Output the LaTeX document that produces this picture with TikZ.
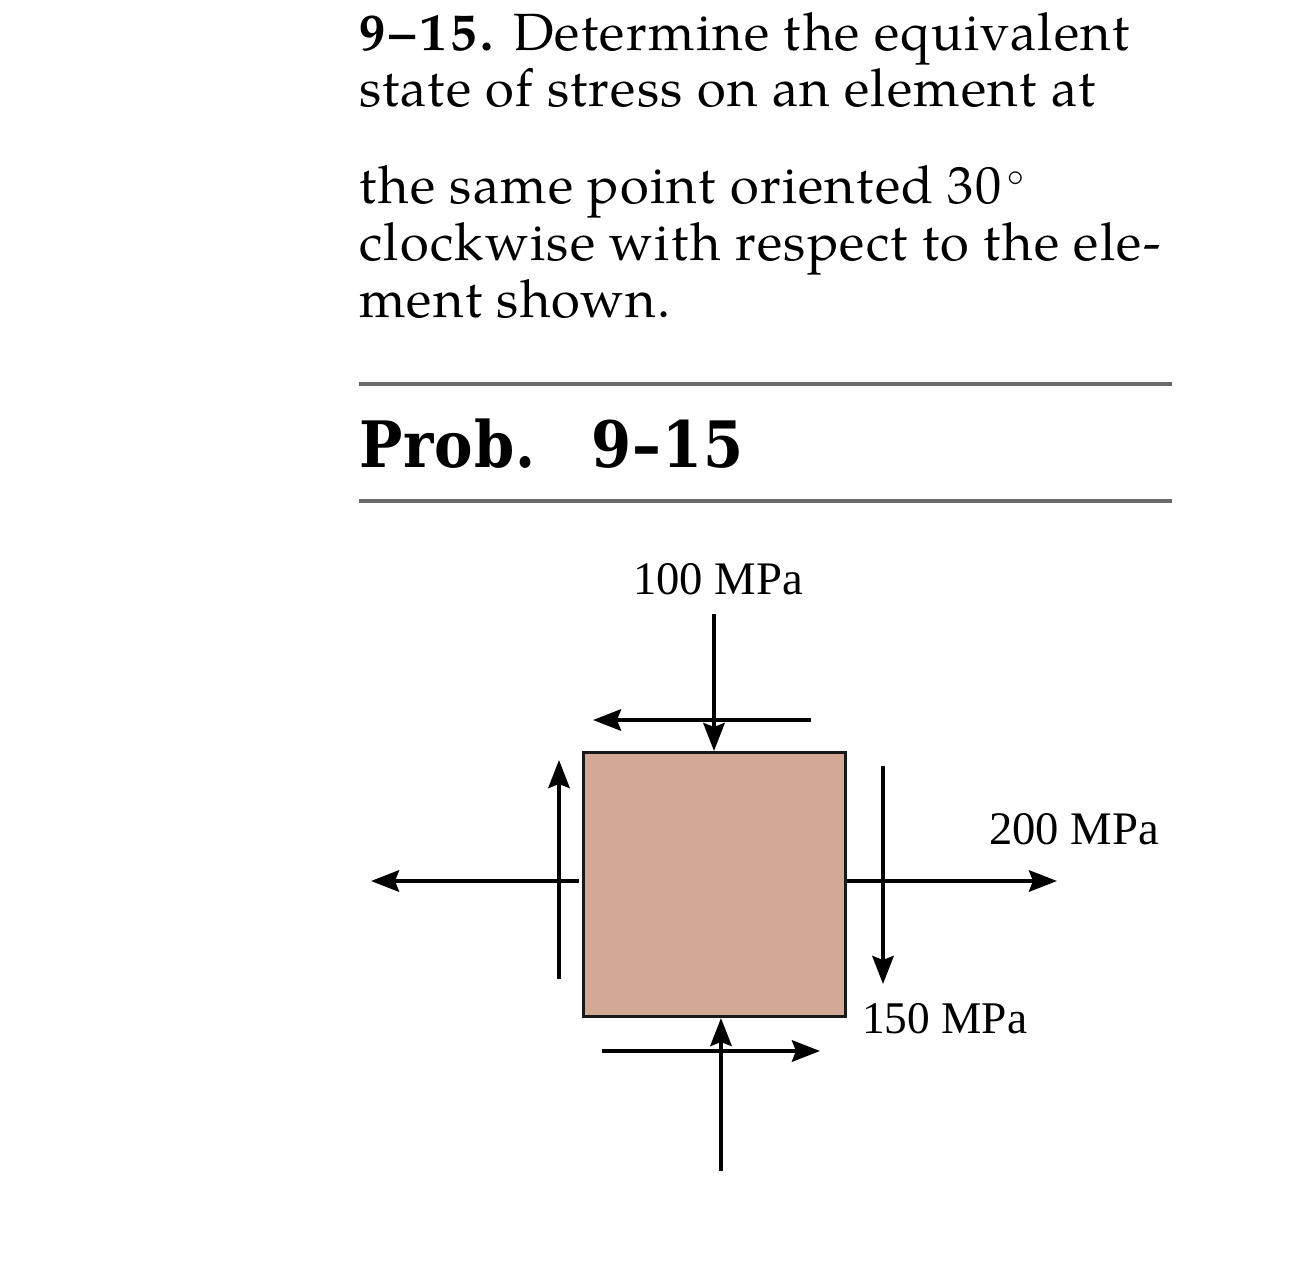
\documentclass[tikz,border=0pt]{standalone}
\usepackage{fontspec}
\setmainfont{Liberation Serif}
\newfontfamily\bodyfont[LetterSpace=2.5]{TeX Gyre Pagella}
\newfontfamily\bodybold[LetterSpace=8]{TeX Gyre Pagella}
\newfontfamily\headfont[LetterSpace=1.5]{DejaVu Serif Condensed}
\usetikzlibrary{arrows.meta}
\definecolor{elemfill}{HTML}{D3A995}
\definecolor{rulegray}{HTML}{6A6A6A}
\tikzset{
  px/.style={x=0.75pt,y=-0.75pt},
  bodytext/.style={anchor=base west,inner sep=0pt,font=\bodyfont\fontsize{39.3}{39.3}\selectfont},
  headtext/.style={anchor=base west,inner sep=0pt,font=\headfont\bfseries\fontsize{48}{48}\selectfont},
  lbl/.style={anchor=base west,inner sep=0pt,font=\fontsize{35}{35}\selectfont},
  rulel/.style={draw=rulegray,line width=2.3pt},
  arr/.style={draw=black,line width=3pt,-{Stealth[length=21pt,width=16pt,inset=3pt]}},
  elem/.style={draw=black!90,fill=elemfill,line width=2.4pt,minimum width=197pt,minimum height=198.5pt,inner sep=0pt},
}
\begin{document}
\begin{tikzpicture}[px]
\useasboundingbox (0,0) rectangle (1290,1264);
\node[bodytext] (l1) at (359,50) {{\bodybold\bfseries 9–15.} Determine the equivalent};
\node[bodytext] (l2) at (359,106) {state of stress on an element at};
\node[bodytext] (l3) at (359,203) {the same point oriented 30\hspace{4pt}\raisebox{3pt}{$^\circ$}};
\node[bodytext] (l4) at (359,260) {clockwise with respect to the ele-};
\node[bodytext] (l5) at (359,317) {ment shown.};
\coordinate (r1a) at (359,384); \coordinate (r1b) at (1172,384);
\coordinate (r2a) at (359,501); \coordinate (r2b) at (1172,501);
\draw[rulel] (r1a) -- (r1b);
\draw[rulel] (r2a) -- (r2b);
\node[headtext] (head) at (359,467) {Prob.\hspace{42pt}9–15};
\node[elem] (box) at (714.5,884.5) {};
\coordinate (ta) at (714,614); \coordinate (tb) at (714,751);
\coordinate (tsa) at (811,720); \coordinate (tsb) at (593,720);
\coordinate (lsa) at (559,979); \coordinate (lsb) at (559,760);
\coordinate (lna) at (579,881); \coordinate (lnb) at (371,881);
\coordinate (rna) at (847,881); \coordinate (rnb) at (1057,881);
\coordinate (rsa) at (883,766); \coordinate (rsb) at (883,984);
\coordinate (bsa) at (602,1051); \coordinate (bsb) at (820,1051);
\coordinate (ba) at (721,1171); \coordinate (bb) at (721,1018);
\draw[arr] (ta) -- (tb);
\draw[arr] (tsa) -- (tsb);
\draw[arr] (lsa) -- (lsb);
\draw[arr] (lna) -- (lnb);
\draw[arr] (rna) -- (rnb);
\draw[arr] (rsa) -- (rsb);
\draw[arr] (bsa) -- (bsb);
\draw[arr] (ba) -- (bb);
\node[lbl] (m100) at (633,594) {100 MPa};
\node[lbl] (m200) at (989,844) {200 MPa};
\node[lbl,font=\fontsize{34}{34}\selectfont] (m150) at (862,1033) {150 MPa};
\end{tikzpicture}
\end{document}
